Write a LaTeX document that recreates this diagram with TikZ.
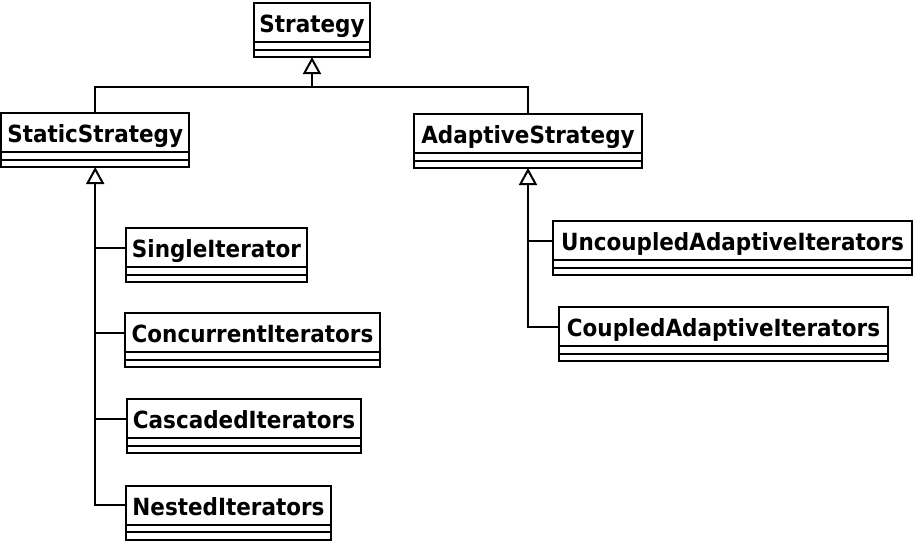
\documentclass[tikz,border=0pt]{standalone}
\usepackage{fontspec}
\usepackage{graphicx}
\setmainfont{DejaVu Sans}
\usetikzlibrary{arrows.meta,calc}
\newcommand{\clsname}[1]{\scalebox{1}[1.1]{#1}}
\tikzset{
  cls/.style={draw, line width=2pt, anchor=north west, minimum height=39pt,
    inner sep=0pt, outer sep=0pt, text height=20.5pt, text depth=0pt,
    font=\bfseries\fontsize{21.5}{24}\selectfont},
  ln/.style={line width=2pt},
  inh/.style={line width=2pt, -{Triangle[open,length=17pt,width=18pt,line width=2pt]}}
}
\newcommand{\compart}[1]{%
  \draw[ln] (#1.south west) rectangle ($(#1.south east)+(0,15)$);
  \draw[ln] ($(#1.south west)+(0,7.5)$) -- ($(#1.south east)+(0,7.5)$);
  \coordinate (#1-b) at ($(#1.south)+(0,15)$);}
\begin{document}
\begin{tikzpicture}[x=1pt,y=-1pt]
\useasboundingbox (0,0) rectangle (915,542);
\node[cls, minimum width=116pt] (strategy) at (254,3) {\clsname{Strategy}};
\node[cls, minimum width=188pt] (static) at (1.2,113) {\clsname{StaticStrategy}};
\node[cls, minimum width=228pt] (adaptive) at (414,114) {\clsname{AdaptiveStrategy}};
\node[cls, minimum width=181pt] (single) at (126,228) {\clsname{SingleIterator}};
\node[cls, minimum width=255pt] (concurrent) at (125,313) {\clsname{ConcurrentIterators}};
\node[cls, minimum width=234pt] (cascaded) at (127,399) {\clsname{CascadedIterators}};
\node[cls, minimum width=205pt] (nested) at (126,485.5) {\clsname{NestedIterators}};
\node[cls, minimum width=359pt] (uncoupled) at (553,221) {\clsname{UncoupledAdaptiveIterators}};
\node[cls, minimum width=329pt] (coupled) at (559,307) {\clsname{CoupledAdaptiveIterators}};
\foreach \n in {strategy,static,adaptive,single,concurrent,cascaded,nested,uncoupled,coupled}{\compart{\n}}
% top level
\coordinate (j) at ($(strategy-b)+(0,30)$);
\draw[ln] (static.north) |- (j) -| (adaptive.north);
\draw[inh] (j) -- (strategy-b);
% static tree
\draw[inh] (nested.west) -| (static-b);
\draw[ln] (single.west) -- (single.west -| static-b);
\draw[ln] (concurrent.west) -- (concurrent.west -| static-b);
\draw[ln] (cascaded.west) -- (cascaded.west -| static-b);
% adaptive tree
\draw[inh] (coupled.west) -| (adaptive-b);
\draw[ln] (uncoupled.west) -- (uncoupled.west -| adaptive-b);
\end{tikzpicture}
\end{document}
